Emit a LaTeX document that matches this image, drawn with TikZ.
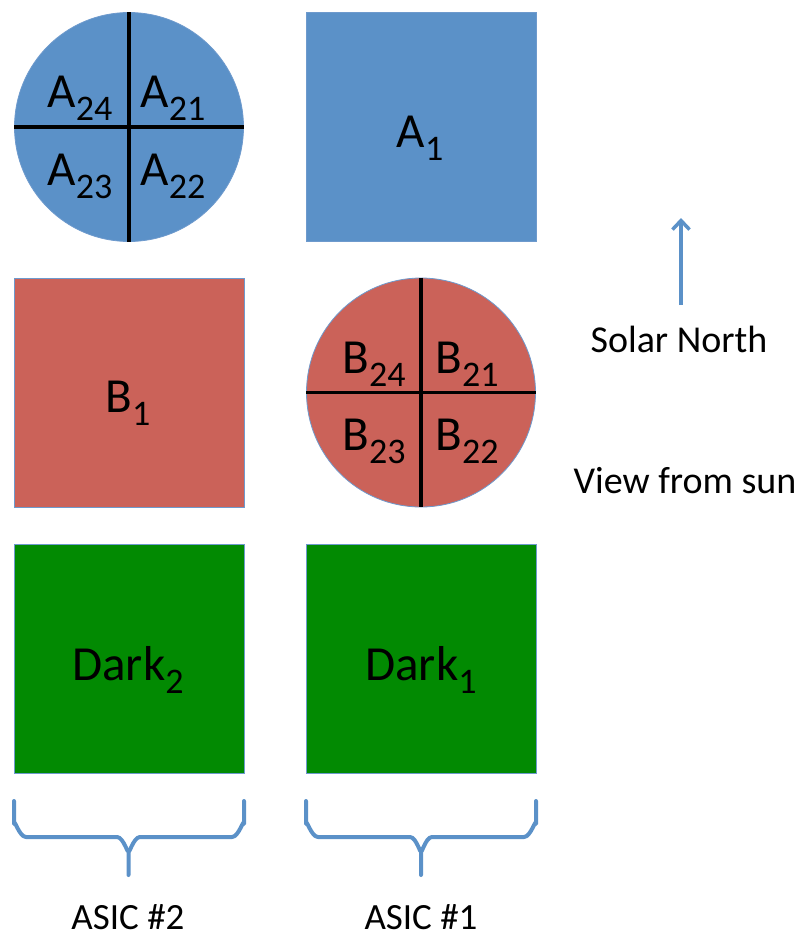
\documentclass[tikz,border=0pt]{standalone}
\usepackage{fontspec}
\setmainfont{Carlito}
\usetikzlibrary{arrows.meta}
\definecolor{ablue}{HTML}{5B91C8}
\definecolor{bred}{HTML}{CB6259}
\definecolor{dgreen}{HTML}{028A02}
\definecolor{edgeblue}{HTML}{6E9ACD}
\newcommand\mylbl[2]{{\fontsize{49}{49}\selectfont #1}\raisebox{-13pt}{\fontsize{36}{36}\selectfont #2}}
\tikzset{
  sqbox/.style={rectangle, draw=edgeblue, line width=0.8pt, minimum width=230, minimum height=229, inner sep=0pt},
  disc/.style={circle, draw=edgeblue, line width=0.8pt, minimum size=229, inner sep=0pt},
  divider/.style={draw=black, line width=3.5pt},
  lbl/.style={anchor=base, inner sep=0pt},
  brace/.style={draw=ablue, line width=4pt, line cap=round, line join=round},
  plain/.style={anchor=base, inner sep=0pt, font=\fontsize{37}{37}\selectfont},
}
\begin{document}
\begin{tikzpicture}[x=1pt,y=-1pt]
\useasboundingbox (0,0) rectangle (801,938);
% row 1
\node[disc, fill=ablue] (CA) at (129,127) {};
\draw[divider] (CA.north) -- (CA.south);
\draw[divider] (CA.west) -- (CA.east);
\node[lbl] (A24) at (80,107) {\mylbl{A}{24}};
\node[lbl] (A21) at (173,107) {\mylbl{A}{21}};
\node[lbl] (A23) at (80,185) {\mylbl{A}{23}};
\node[lbl] (A22) at (173,185) {\mylbl{A}{22}};
\node[sqbox, fill=ablue] (SA) at (421,126.5) {};
\node[lbl] (A1) at (420,147) {\mylbl{A}{1}};
% row 2
\node[sqbox, fill=bred] (SB) at (129,393) {};
\node[lbl] (B1) at (128,412) {\mylbl{B}{1}};
\node[disc, fill=bred] (CB) at (421,392.5) {};
\draw[divider] (CB.north) -- (CB.south);
\draw[divider] (CB.west) -- (CB.east);
\node[lbl] (B24) at (374,373) {\mylbl{B}{24}};
\node[lbl] (B21) at (467,373) {\mylbl{B}{21}};
\node[lbl] (B23) at (374,450) {\mylbl{B}{23}};
\node[lbl] (B22) at (467,450) {\mylbl{B}{22}};
% row 3
\node[sqbox, fill=dgreen] (SD2) at (129,659) {};
\node[lbl] (D2) at (128,680) {\mylbl{Dark}{2}};
\node[sqbox, fill=dgreen] (SD1) at (421,659) {};
\node[lbl] (D1) at (421,680) {\mylbl{Dark}{1}};
% braces
\draw[brace] (14,801) -- (14,824) to[out=90,in=180] (26,837) -- (117,837) to[out=0,in=-90] (128.5,850) -- (128.5,875);
\draw[brace] (244,801) -- (244,824) to[out=90,in=0] (232,837) -- (140,837) to[out=180,in=-90] (128.5,850);
\draw[brace] (306,801) -- (306,824) to[out=90,in=180] (318,837) -- (410,837) to[out=0,in=-90] (421,850) -- (421,875);
\draw[brace] (536,801) -- (536,824) to[out=90,in=0] (524,837) -- (432,837) to[out=180,in=-90] (421,850);
\node[plain] (ASIC2) at (128,929) {ASIC \#2};
\node[plain] (ASIC1) at (421,929) {ASIC \#1};
% north arrow
\coordinate (tail) at (681,305);
\coordinate (head) at (681,218);
\draw[draw=ablue, line width=4pt, -{Straight Barb[length=9pt,width=17pt,line width=3.5pt]}] (tail) -- (head);
\node[plain, font=\fontsize{38}{38}\selectfont] (SN) at (679,352) {Solar North};
\node[plain, font=\fontsize{38}{38}\selectfont] (VS) at (685,493) {View from sun};
\end{tikzpicture}
\end{document}
